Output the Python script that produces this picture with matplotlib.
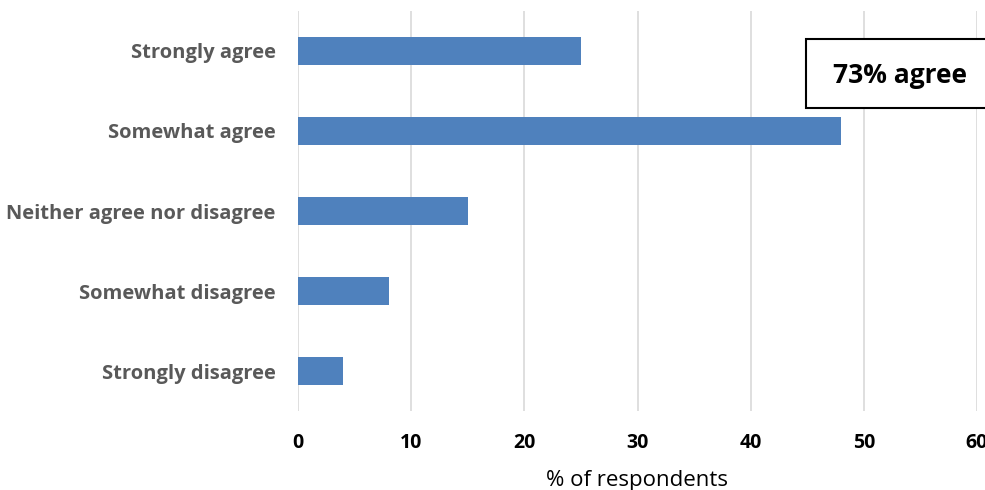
import matplotlib
matplotlib.use("Agg")
import matplotlib.pyplot as plt
from matplotlib.patches import Rectangle

categories = ["Strongly agree", "Somewhat agree", "Neither agree nor disagree",
              "Somewhat disagree", "Strongly disagree"]
values = [25, 48, 15, 8, 4]
xticks = [0, 10, 20, 30, 40, 50, 60]
annotation = "73% agree"

plt.rcParams['font.family'] = ['Open Sans', 'DejaVu Sans']

fig = plt.figure(figsize=(9.85, 4.9), dpi=100)
ax = fig.add_axes([298/985, 1 - 411/490, (977-298)/985, 400/490])

y = list(range(len(categories)))
ax.barh(y, values, height=0.35, color="#4f81bd", zorder=3)
ax.set_ylim(len(categories) - 0.5, -0.5)
ax.set_xlim(0, 60)
ax.set_yticks(y)
ax.set_yticklabels(categories, fontsize=14.5, fontweight='bold', color='#595959')
ax.set_xticks(xticks)
ax.set_xticklabels([str(t) for t in xticks], fontsize=14, fontweight='bold', color='black')
ax.tick_params(axis='both', length=0)
ax.tick_params(axis='x', pad=16)
ax.tick_params(axis='y', pad=16)
for s in ax.spines.values():
    s.set_visible(False)
ax.grid(axis='x', color='#d9d9d9', linewidth=1.2, zorder=0)
ax.set_xlabel("% of respondents", fontsize=16, color='black', labelpad=12)

rect = Rectangle((806/985, 1 - 108/490), 200/985, 69/490, transform=fig.transFigure,
                 facecolor='white', edgecolor='black', linewidth=1.5, zorder=5, clip_on=False)
fig.patches.append(rect)
fig.text(900/985, 1 - 75/490, annotation, fontsize=19, fontweight='bold', color='black',
         ha='center', va='center', zorder=6)

fig.savefig("out.png", dpi=100)
